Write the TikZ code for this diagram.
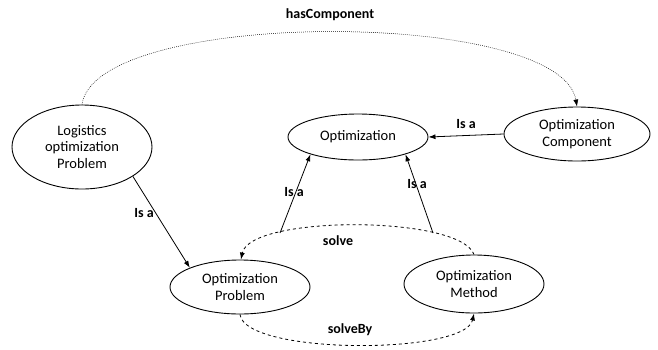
\documentclass[tikz,border=0pt]{standalone}
\usepackage{fontspec}
\setmainfont{Carlito}
\usetikzlibrary{shapes.geometric,arrows.meta}

\begin{document}
\begin{tikzpicture}[x=1pt, y=-1pt,
    concept/.style={ellipse, draw, line width=0.9pt, inner sep=0pt, align=center,
        font=\fontsize{14.5}{16.5}\selectfont},
    rel/.style={font=\fontsize{14}{16}\selectfont\bfseries},
    link/.style={line width=0.8pt, -{Latex[length=7pt,width=5pt]}}]
\useasboundingbox (0,0) rectangle (658,349);
% concepts
\node[concept, minimum width=140pt, minimum height=84pt] (logistics) at (82,147) {Logistics\\optimization\\Problem};
\node[concept, minimum width=140pt, minimum height=46pt] (optim) at (358,137) {Optimization};
\node[concept, minimum width=146pt, minimum height=54pt] (comp) at (577,134) {Optimization\\Component};
\node[concept, minimum width=140pt, minimum height=54pt] (prob) at (240,287) {Optimization\\Problem};
\node[concept, minimum width=140pt, minimum height=58pt] (method) at (474,284) {Optimization\\Method};
% free ends of the is-a links
\coordinate (probtop) at (280,233);
\coordinate (methtop) at (433,233);
% is-a links
\draw[link] (logistics.-30) -- (prob.159);
\draw[link] (comp.west) -- (optim.east);
\draw[link] (probtop) -- (optim.-160);
\draw[link] (methtop) -- (optim.-20);
\foreach \p[count=\i] in {(144,213),(294,192),(417,184),(466,124)} {
    \node[rel] (isa\i) at \p {Is a};
}
% hasComponent
\draw[link, line width=0.5pt, dash pattern=on 0.8pt off 1.2pt] (logistics.north) .. controls (95,8) and (560,8) .. (comp.north);
\node[rel] (hascomp) at (330,15) {hasComponent};
% solve and solveBy
\draw[link, dashed] (method.north) .. controls (460,215) and (250,215) .. (prob.88);
\node[rel] (solve) at (338,241) {solve};
\draw[link, dashed] (prob.south) .. controls (245,355) and (465,355) .. (method.south);
\node[rel] (solveby) at (350,330) {solveBy};
\end{tikzpicture}
\end{document}
